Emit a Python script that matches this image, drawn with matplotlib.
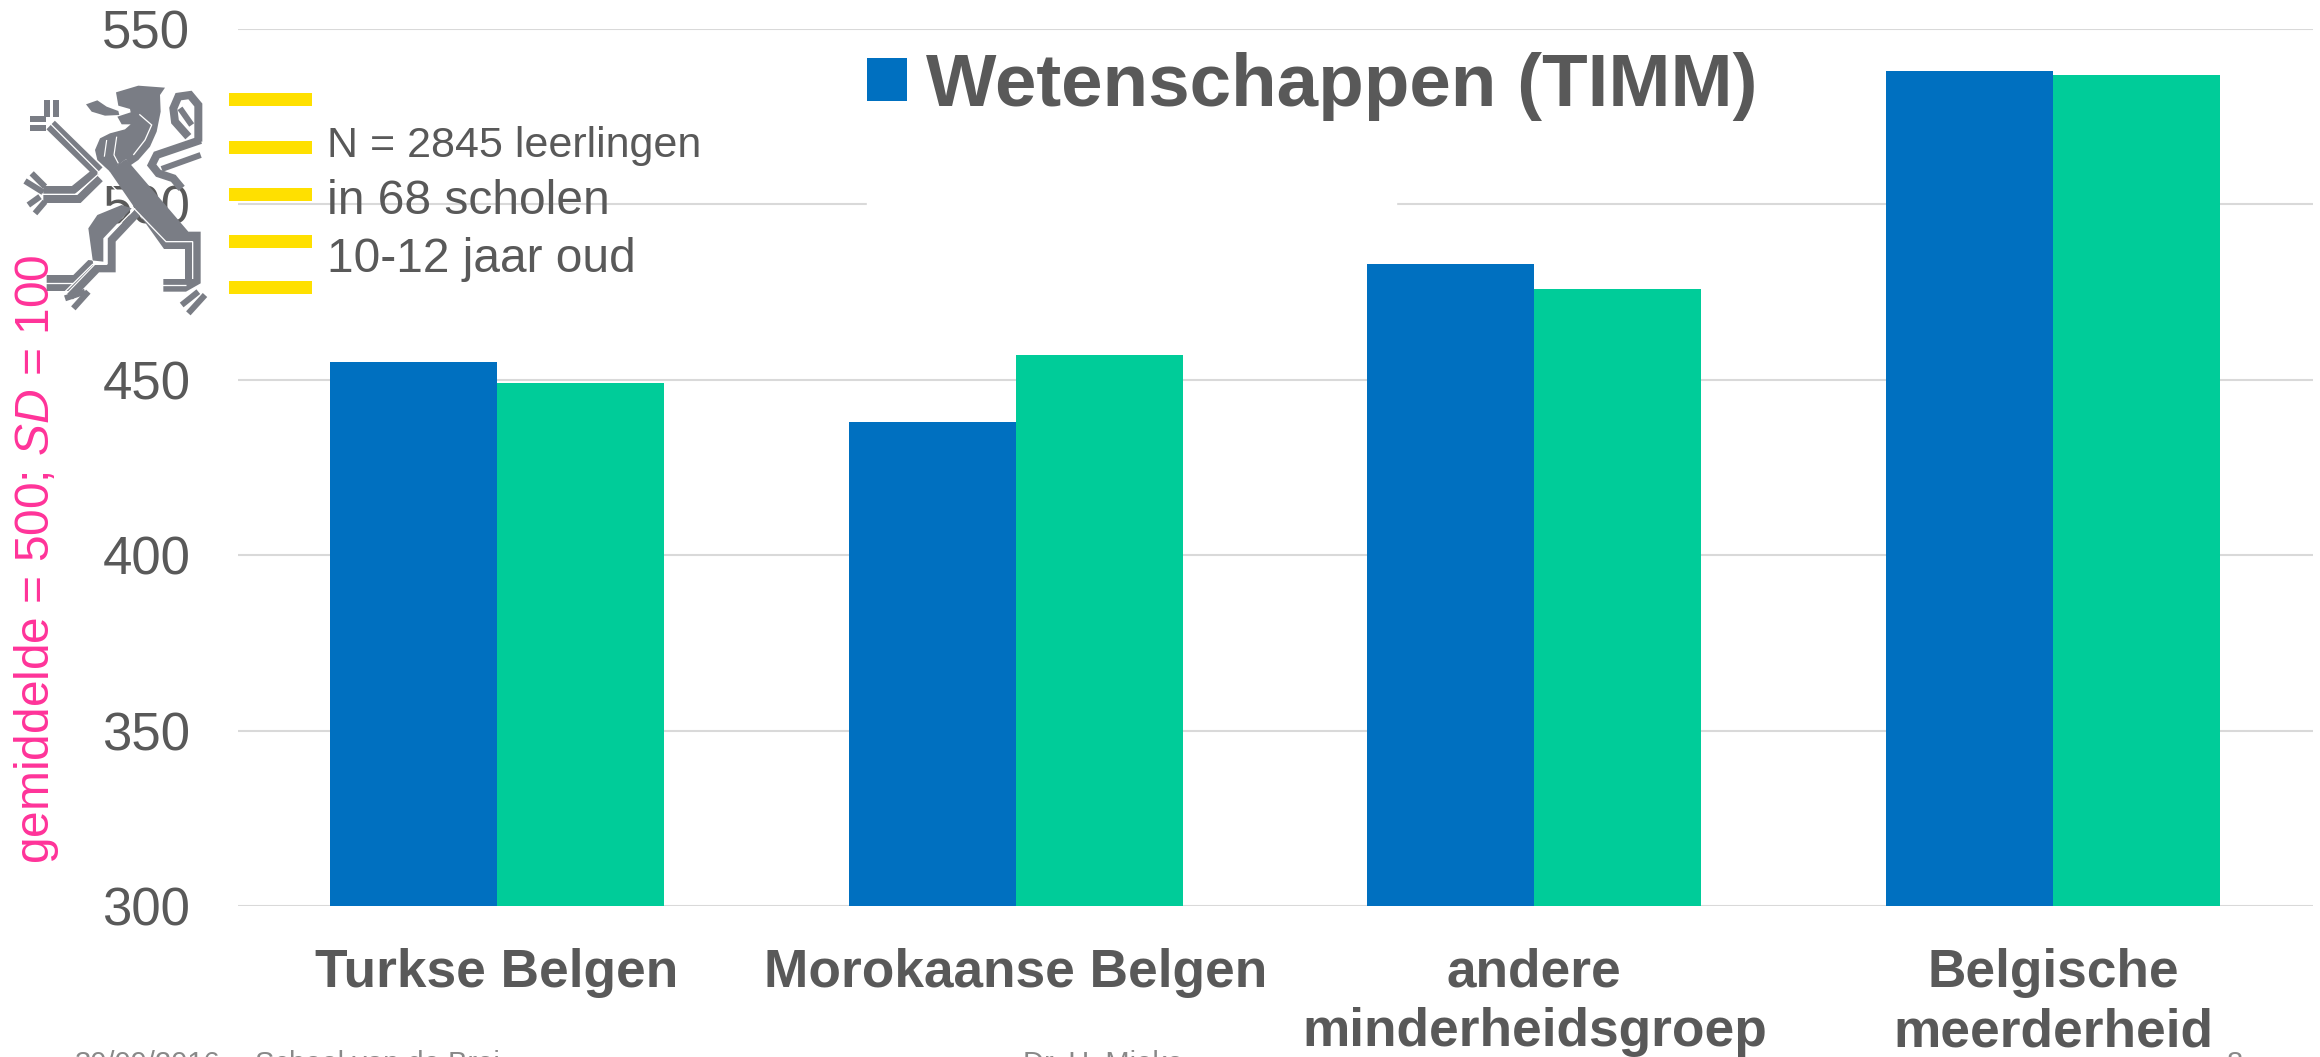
import numpy as np
import matplotlib as mpl
mpl.use('Agg')
import matplotlib.pyplot as plt
from matplotlib.patches import Rectangle, Polygon

plt.rcParams['font.family'] = ['Liberation Sans', 'DejaVu Sans']
plt.rcParams['mathtext.fontset'] = 'custom'
plt.rcParams['mathtext.rm'] = 'Liberation Sans'
plt.rcParams['mathtext.it'] = 'Liberation Sans:italic'

################ DATA
groups = ['Turkse Belgen', 'Morokaanse Belgen', 'andere\nminderheidsgroep',
          'Belgische\nmeerderheid']
series_1 = [455, 438, 483, 538]
series_2 = [449, 457, 476, 537]
legend_label = 'Wetenschappen (TIMM)'
y_ticks = [300, 350, 400, 450, 500, 550]
y_label = r'gemiddelde = 500; $\mathit{SD}$ = 100'
notes = ['N = 2845 leerlingen', 'in 68 scholen', '10-12 jaar oud']
footer = ['30/09/2016', 'School van de Brei', 'Dr. H. Mieke', '8']

W, H = 2320, 1057
grey = '#595959'
blue = '#0070C0'
green = '#00CC99'
yellow = '#FFE000'
lion = '#7A7D85'
pink = '#FF3399'

fig = plt.figure(figsize=(W / 100, H / 100), dpi=100, facecolor='white')

################ CHART
ax = fig.add_axes([237.5 / W, 1 - 906 / H, 2075 / W, 877 / H])
x = np.arange(len(groups))
wid = 0.322
ax.bar(x - wid / 2, series_1, wid, color=blue, zorder=3, label=legend_label)
ax.bar(x + wid / 2, series_2, wid, color=green, zorder=3)
ax.set_xlim(-0.5, 3.5)
ax.set_ylim(300, 550)
ax.set_yticks(y_ticks)
ax.set_xticks(x)
ax.set_xticklabels(groups, fontsize=38.3, fontweight='bold', color=grey, linespacing=1.24)
ax.tick_params(axis='x', length=0, pad=30)
ax.tick_params(axis='y', length=0, pad=34, labelsize=38, labelcolor=grey)
ax.grid(axis='y', color='#D9D9D9', linewidth=1.5, zorder=1)
ax.set_axisbelow(True)
for s in ax.spines.values():
    s.set_visible(False)

# the legend box covers the 500 line
ax.add_patch(Rectangle((867, H - 230), 529, 180, transform=None, color='white', zorder=2))
ax.legend(loc='upper left', bbox_to_anchor=(867 / W, 1 - 52 / H),
          bbox_transform=fig.transFigure, frameon=False,
          prop={'size': 53.7, 'weight': 'bold'}, labelcolor=grey, borderpad=0,
          borderaxespad=0, handlelength=0.53, handleheight=0.5, handletextpad=0.26)

################ OVERLAY, in pixels
ov = fig.add_axes([0, 0, 1, 1], facecolor='none')
ov.set_xlim(0, W)
ov.set_ylim(H, 0)
ov.axis('off')

for y0 in [93, 141, 188, 235, 281]:
    ov.add_patch(Rectangle((229, y0), 83, 13, color=yellow, lw=0))
for t, yb, fs in zip(notes, [157, 214, 272], [31, 34.5, 34.5]):
    ov.text(327, yb, t, fontsize=fs, color=grey, va='baseline', ha='left')

ov.text(37, 559, y_label, fontsize=34.5, color=pink, rotation=90, ha='center', va='center')

fy = 1072
ov.text(75, fy, footer[0], fontsize=21, color='#898989', va='baseline', clip_on=True)
ov.text(255, fy, footer[1], fontsize=21, color='#898989', va='baseline', clip_on=True)
ov.text(1023, fy, footer[2], fontsize=21, color='#898989', va='baseline', clip_on=True)
ov.text(2227, fy, footer[3], fontsize=21, color='#898989', va='baseline', clip_on=True)


def Px(pts):
    pts = np.array(pts, dtype=float)
    return 10 + pts[:, 0] / 3, 75 + pts[:, 1] / 3


def Poly(pts, color=lion):
    xs, ys = Px(pts)
    ov.add_patch(Polygon(np.c_[xs, ys], closed=True, color=color, lw=0, zorder=5))


def Band(pts, width, color=lion, z=5):
    xs, ys = Px(pts)
    ov.plot(xs, ys, color=color, lw=width * 0.72, solid_capstyle='butt',
            solid_joinstyle='miter', zorder=z)


# head, tongue, mane
Poly([(318, 52), (385, 32), (465, 38), (450, 60), (452, 110), (440, 170), (420, 215),
      (385, 255), (360, 272), (348, 252), (300, 290), (262, 255), (255, 225), (270, 190),
      (300, 175), (345, 163), (362, 148), (335, 148), (322, 125), (362, 112), (360, 102),
      (325, 92)])
Poly([(228, 88), (262, 76), (290, 95), (325, 108), (328, 120), (285, 122), (245, 110)])
# torso and right hind leg
Poly([(298, 288), (348, 252), (535, 470), (572, 470), (572, 625), (528, 650), (460, 650),
      (460, 612), (525, 612), (525, 522), (462, 522), (375, 400)])
# upper limb
Band([(122, 150), (265, 290)], 12)
# front arm
Band([(258, 290), (190, 345), (100, 345)], 8)
Band([(270, 310), (207, 372), (100, 372)], 8)
# left hind leg
Poly([(235, 460), (262, 420), (335, 390), (365, 400), (280, 490), (280, 560), (235, 555),
      (190, 600), (110, 600), (110, 648), (175, 648), (250, 570)])
Band([(385, 410), (305, 495), (305, 580), (262, 580), (180, 665)], 8)
# paws
Band([(110, 75), (110, 125)], 6)
Band([(138, 75), (138, 125)], 6)
Band([(60, 132), (108, 132)], 6)
Band([(60, 160), (108, 160)], 6)
Band([(45, 318), (100, 352)], 6)
Band([(65, 295), (105, 335)], 6)
Band([(55, 390), (90, 365)], 6)
Band([(75, 415), (105, 380)], 6)
Band([(165, 670), (225, 650)], 6)
Band([(190, 700), (235, 650)], 6)
Band([(515, 690), (565, 650)], 6)
Band([(535, 715), (585, 660)], 6)
# tail
Band([(515, 340), (490, 310), (445, 295), (425, 270), (440, 240), (572, 195)], 8)
Band([(455, 282), (572, 240)], 6)
Band([(535, 185), (495, 140), (490, 100), (505, 65), (540, 60), (565, 90), (565, 200)], 8)
Band([(510, 100), (545, 150)], 6)
# white lines on top of the grey
Band([(110, 135), (275, 300), (468, 500), (548, 500), (548, 612)], 1.3, 'white', 6)
Band([(265, 298), (198, 358), (95, 358)], 1.3, 'white', 6)
Band([(375, 400), (290, 488), (290, 568), (248, 568), (165, 650)], 1.3, 'white', 6)
Band([(105, 624), (190, 624)], 1.3, 'white', 6)
Band([(455, 631), (528, 631)], 1.3, 'white', 6)
Band([(290, 195), (283, 245)], 1.2, 'white', 6)
Band([(320, 185), (312, 240), (325, 265)], 1.2, 'white', 6)
Band([(388, 118), (425, 150), (405, 195), (370, 240)], 1.3, 'white', 6)

fig.savefig('out.png', dpi=100)
